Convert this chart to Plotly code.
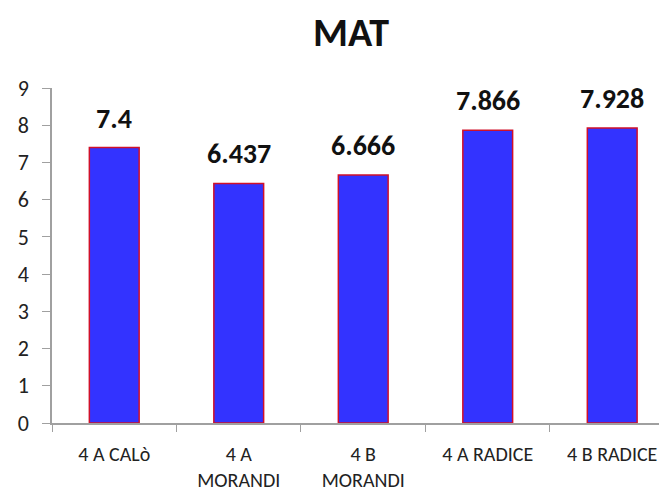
import plotly.graph_objects as go

categories = ["4 A CALò", "4 A<br>MORANDI", "4 B<br>MORANDI", "4 A RADICE", "4 B RADICE"]
values = [7.4, 6.437, 6.666, 7.866, 7.928]
labels = ["7.4", "6.437", "6.666", "7.866", "7.928"]

FONT = "Carlito, Calibri, Lato, sans-serif"

fig = go.Figure()
fig.add_trace(go.Bar(
    x=categories, y=values,
    marker=dict(color="#3333FF", line=dict(color="#D0102A", width=1.5)),
    width=0.40,
))
for c, v, t in zip(categories, values, labels):
    fig.add_annotation(x=c, y=v, text="<b>" + t + "</b>", showarrow=False,
                       yanchor="bottom", yshift=10,
                       font=dict(family=FONT, size=28, color="#111111"))

# the page body adds an 8px margin, so the figure is 8px smaller and shifted
fig.update_layout(
    width=659, height=487,
    margin=dict(l=44, r=0, t=80, b=72),
    paper_bgcolor="white", plot_bgcolor="white",
    showlegend=False,
    title=dict(text="<b>MAT</b>", x=0.5205, xref="container", xanchor="center",
               y=0.9507, yref="container", yanchor="middle",
               font=dict(family=FONT, size=40, color="#111111")),
    font=dict(family=FONT, color="#222222"),
)
fig.update_xaxes(range=[-0.5, 4.44], showline=True, linecolor="#A0A0A0", linewidth=1.5,
                 ticks="outside", tickson="boundaries", tickcolor="#A0A0A0", ticklen=7,
                 tickfont=dict(size=20, color="#222222"), ticklabelstandoff=12,
                 showgrid=False)
fig.update_yaxes(range=[0, 9], dtick=1, showline=True, linecolor="#A0A0A0", linewidth=1.5,
                 ticks="outside", tickcolor="#A0A0A0", ticklen=8,
                 tickfont=dict(size=22, color="#222222"), ticklabelstandoff=9,
                 showgrid=False, zeroline=False)

fig.write_html("out.html")
